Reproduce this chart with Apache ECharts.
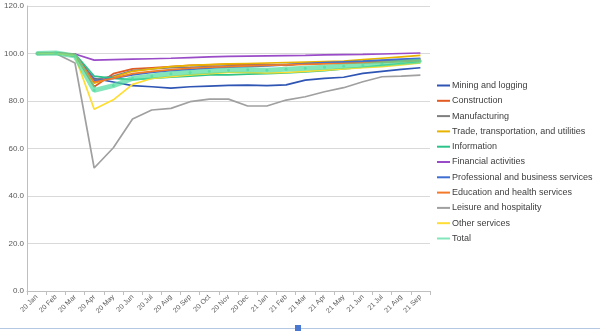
<!DOCTYPE html>
<html><head><meta charset="utf-8">
<script src="https://cdn.jsdelivr.net/npm/echarts@6/dist/echarts.min.js"></script>
<style>html,body{margin:0;padding:0;background:#fff}#c{width:600px;height:331px}</style>
</head><body><div id="c"></div>
<script>
const categories = ['20 Jan','20 Feb','20 Mar','20 Apr','20 May','20 Jun','20 Jul','20 Aug','20 Sep','20 Oct','20 Nov','20 Dec','21 Jan','21 Feb','21 Mar','21 Apr','21 May','21 Jun','21 Jul','21 Aug','21 Sep'];
const yTicks = [0, 20, 40, 60, 80, 100, 120];
const seriesNames = ['Mining and logging','Construction','Manufacturing','Trade, transportation, and utilities','Information','Financial activities','Professional and business services','Education and health services','Leisure and hospitality','Other services','Total'];
const colors = ['#2F55B4','#E35A22','#7F7F7F','#E8B400','#2CC38A','#9A4CC8','#3F6ED2','#F47A2A','#A0A0A0','#FFDD33','#4FDB9E'];

const mining       = [100,100.2,98.8,89.5,88.0,86.5,86.0,85.4,86.0,86.3,86.6,86.7,86.5,86.8,88.8,89.5,90.0,91.6,92.5,93.3,94.0];
const construction = [100,100.4,99.5,86.0,91.5,93.5,94.0,94.5,95.0,95.2,95.5,95.6,95.4,95.0,95.8,96.2,96.5,96.7,97.0,97.3,97.6];
const manufacturing= [100,100.0,99.7,89.0,90.5,92.8,93.5,94.0,94.2,94.5,94.8,95.0,95.2,95.4,95.6,95.9,96.2,96.5,96.8,97.0,97.4];
const trade        = [100,100.0,99.5,87.5,90.0,92.5,93.5,94.5,95.0,95.3,95.6,95.8,96.0,96.2,96.4,96.6,96.8,97.4,98.0,98.6,99.2];
const information  = [100,100.1,99.8,90.5,89.5,89.0,89.5,90.0,90.5,91.0,91.0,91.3,91.5,91.8,92.2,92.8,93.5,94.2,95.0,95.8,96.6];
const financial    = [100,100.0,99.8,97.2,97.4,97.6,97.8,98.0,98.3,98.6,98.8,98.9,99.0,99.1,99.2,99.4,99.5,99.6,99.8,100.0,100.2];
const professional = [100,100.2,99.5,88.5,89.5,91.0,92.0,92.8,93.3,93.8,94.2,94.5,94.8,95.2,95.8,96.2,96.5,96.8,97.2,97.6,98.0];
const education    = [100,100.2,99.6,88.0,89.5,91.5,92.5,93.2,93.8,94.2,94.5,94.8,95.0,95.2,95.4,95.6,95.8,96.0,96.3,96.6,97.0];
const leisure      = [100,100.0,96.0,51.8,60.3,72.4,76.2,76.9,79.7,80.8,80.8,77.9,77.9,80.4,81.8,83.9,85.6,88.1,90.2,90.5,90.9];
const other        = [100,100.0,99.0,76.5,80.5,87.0,89.5,90.3,91.0,91.5,92.0,92.0,91.8,92.0,92.5,93.0,93.5,94.0,94.5,95.2,96.0];
const total        = [100,100.2,99.0,84.5,86.5,89.5,90.5,91.5,92.0,92.5,93.0,93.2,93.0,93.4,93.8,94.2,94.6,95.0,95.6,96.2,96.8];

const allData = [mining, construction, manufacturing, trade, information, financial, professional, education, leisure, other, total];

const chart = echarts.init(document.getElementById('c'), null, {renderer:'canvas'});
const series = allData.map((d, i) => {
  const isTotal = i === allData.length - 1;
  return {
    name: seriesNames[i], type: 'line', data: d,
    symbol: isTotal ? 'circle' : 'none', symbolSize: 3, showSymbol: isTotal,
    itemStyle: {color: colors[i], opacity: isTotal ? 0.7 : 1},
    lineStyle: {color: colors[i], width: isTotal ? 5 : 1.7, opacity: isTotal ? 0.7 : 1},
    animation: false, z: isTotal ? 3 : 2
  };
});
chart.setOption({
  animation: false,
  color: colors,
  textStyle: {fontFamily: 'Liberation Sans'},
  grid: {left: 27, right: 170, top: 6, bottom: 40, containLabel: false},
  legend: {
    orient: 'vertical', left: 437, top: 80, padding: 0, itemWidth: 13, itemHeight: 2, itemGap: 4.3,
    icon: 'rect', selectedMode: false,
    textStyle: {fontSize: 9, color: '#404040', padding: [0,0,0,-3], lineHeight: 11, fontFamily: 'Liberation Sans'},
    data: seriesNames
  },
  xAxis: {
    type: 'category', data: categories, boundaryGap: true,
    axisLine: {lineStyle: {color: '#BFBFBF', width: 1}},
    axisTick: {show: true, alignWithLabel: false, length: 4, lineStyle: {color: '#BFBFBF'}},
    axisLabel: {rotate: 45, fontSize: 7, color: '#595959', margin: 5, interval: 0}
  },
  yAxis: {
    type: 'value', min: 0, max: 120, interval: 20,
    axisLine: {show: true, lineStyle: {color: '#BFBFBF'}},
    axisTick: {show: false},
    splitLine: {lineStyle: {color: '#D9D9D9', width: 1}},
    axisLabel: {fontSize: 8, color: '#595959', margin: 3, formatter: v => yTicks.includes(v) ? v.toFixed(1) : ''}
  },
  graphic: [
    {type: 'line', shape: {x1: 0, y1: 328.5, x2: 600, y2: 328.5}, style: {stroke: '#B4C8E4', lineWidth: 1}, silent: true},
    {type: 'rect', shape: {x: 295, y: 325, width: 6, height: 6}, style: {fill: '#4A78D0'}, silent: true}
  ],
  series: series
});
</script></body></html>
